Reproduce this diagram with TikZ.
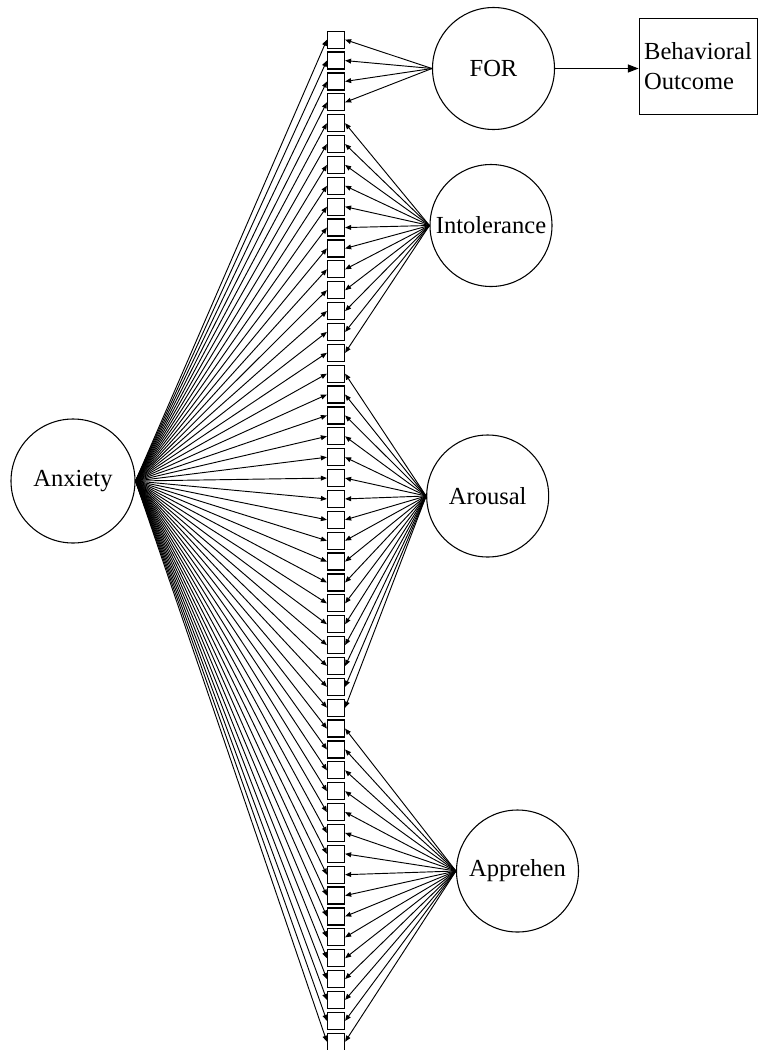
\documentclass[tikz,border=0pt]{standalone}
\usepackage{fontspec}
\setmainfont{Liberation Serif}
\usetikzlibrary{arrows.meta}
\begin{document}
\begin{tikzpicture}[x=0.75pt,y=-0.75pt,
  latent/.style={draw,circle,line width=0.8pt,minimum size=91.5pt,inner sep=0pt,font=\fontsize{18.4pt}{22.5pt}\selectfont},
  obsbox/.style={draw,rectangle,line width=0.9pt,minimum size=12.75pt,inner sep=0pt},
  outbox/.style={draw,rectangle,line width=0.6pt,minimum width=88.5pt,minimum height=72pt,inner sep=0pt,align=left,font=\fontsize{18.4pt}{22.5pt}\selectfont},
  load/.style={line width=0.7pt,-{Triangle[length=4.5pt,width=3.6pt]}},
  path/.style={line width=0.8pt,-{Triangle[length=8pt,width=6pt]}}]
\useasboundingbox (0,0) rectangle (758,1050);
\node[latent,minimum size=93pt] (Anxiety) at (73,481) {Anxiety};
\node[latent] (FOR) at (493.5,68.5) {FOR};
\node[latent] (Intol) at (491,225.5) {Intolerance};
\node[latent] (Arous) at (487.7,496) {Arousal};
\node[latent] (Appre) at (517.5,871) {Apprehen};
\node[outbox] (Behav) at (698,66) {Behavioral\\Outcome};
\foreach \i in {1,...,49}{
  \node[obsbox] (b\i) at (336,{39.7+20.875*(\i-1)}) {};
  \draw[load] (Anxiety.east) -- (b\i.west);
}
\foreach \i in {1,...,4}{\draw[load] (FOR.west) -- (b\i.east);}
\foreach \i in {5,...,16}{\draw[load] (Intol.west) -- (b\i.east);}
\foreach \i in {17,...,33}{\draw[load] (Arous.west) -- (b\i.east);}
\foreach \i in {34,...,49}{\draw[load] (Appre.west) -- (b\i.east);}
\draw[path] (FOR.east) -- (FOR.east -| Behav.west);
\end{tikzpicture}
\end{document}
